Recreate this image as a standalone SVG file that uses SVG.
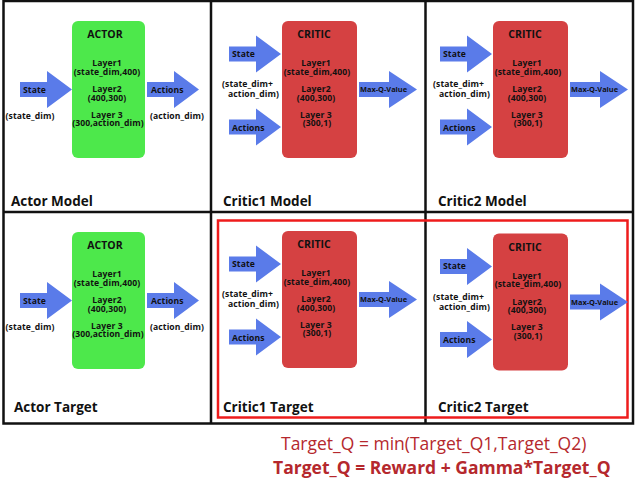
<svg xmlns="http://www.w3.org/2000/svg" xmlns:xlink="http://www.w3.org/1999/xlink" width="638" height="482" viewBox="0 0 638 482">
<style>
text{font-family:"Open Sans","DejaVu Sans",sans-serif;font-weight:bold;fill:#111}
.t8{font-size:8.6px;letter-spacing:0.1px}
.c{text-anchor:middle}
.hd{font-size:10.5px}
.q{font-size:7.4px}
.ttl{font-size:13.5px}
.arr{fill:#5a7be9}
.act{fill:#4de84b}
.cri{fill:#d54142}
.grid{fill:none;stroke:#111;stroke-width:2.5}
.eq1{font-size:17.5px;font-weight:normal;fill:#b5282d}
.eq2{font-size:17.5px;font-weight:bold;fill:#b5282d}
</style>
<defs>
<path id="a" d="M0,-7.5H27V-18.5L52,0L27,18.5V7.5H0Z"/>
<path id="aq" d="M0,-7.5H30V-18.5L58,0L30,18.5V7.5H0Z"/>
</defs>
<rect width="638" height="482" fill="#fff"/>
<g id="frame">
<rect class="grid" x="3.5" y="1" width="629.5" height="422.5"/>
<line class="grid" x1="211" y1="1" x2="211" y2="423.5"/>
<line class="grid" x1="425.5" y1="1" x2="425.5" y2="423.5"/>
<line class="grid" x1="3.5" y1="212" x2="633" y2="212"/>
<rect x="218" y="220.5" width="409.5" height="197" fill="none" stroke="#ee1c1c" stroke-width="2.5"/>
</g>
<g id="connectors">
<g id="actor-model-arrows">
<use href="#a" class="arr" x="20" y="89.5"/>
<use href="#a" class="arr" x="147" y="89.5"/>
<text class="t8" x="23" y="92.5">State</text>
<text class="t8 c" x="30" y="118.5">(state_dim)</text>
<text class="t8" x="151" y="92.5">Actions</text>
<text class="t8 c" x="177" y="118.5">(action_dim)</text>
</g>
<g id="actor-target-arrows" transform="translate(0,211)">
<use href="#a" class="arr" x="20" y="89.5"/>
<use href="#a" class="arr" x="147" y="89.5"/>
<text class="t8" x="23" y="92.5">State</text>
<text class="t8 c" x="30" y="118.5">(state_dim)</text>
<text class="t8" x="151" y="92.5">Actions</text>
<text class="t8 c" x="177" y="118.5">(action_dim)</text>
</g>
<g id="critic1-model-arrows">
<use href="#a" class="arr" x="229" y="54"/>
<use href="#a" class="arr" x="229" y="127"/>
<use href="#aq" class="arr" x="359" y="89.5"/>
<text class="t8" x="232" y="56.5">State</text>
<text class="t8" x="232" y="130.5">Actions</text>
<text class="t8" x="222" y="87">(state_dim+</text>
<text class="t8" x="228" y="97">action_dim)</text>
<text class="q" x="360" y="92">Max-Q-Value</text>
</g>
<g id="critic2-model-arrows" transform="translate(211,0)">
<use href="#a" class="arr" x="229" y="54"/>
<use href="#a" class="arr" x="229" y="127"/>
<use href="#aq" class="arr" x="359" y="89.5"/>
<text class="t8" x="232" y="56.5">State</text>
<text class="t8" x="232" y="130.5">Actions</text>
<text class="t8" x="222" y="87">(state_dim+</text>
<text class="t8" x="228" y="97">action_dim)</text>
<text class="q" x="360" y="92">Max-Q-Value</text>
</g>
<g id="critic1-target-arrows" transform="translate(0,210)">
<use href="#a" class="arr" x="229" y="54"/>
<use href="#a" class="arr" x="229" y="127"/>
<use href="#aq" class="arr" x="359" y="89.5"/>
<text class="t8" x="232" y="56.5">State</text>
<text class="t8" x="232" y="130.5">Actions</text>
<text class="t8" x="222" y="87">(state_dim+</text>
<text class="t8" x="228" y="97">action_dim)</text>
<text class="q" x="360" y="92">Max-Q-Value</text>
</g>
<g id="critic2-target-arrows" transform="translate(211,212.5)">
<use href="#a" class="arr" x="229" y="54"/>
<use href="#a" class="arr" x="229" y="127"/>
<use href="#aq" class="arr" x="359" y="89.5"/>
<text class="t8" x="232" y="56.5">State</text>
<text class="t8" x="232" y="130.5">Actions</text>
<text class="t8" x="222" y="87">(state_dim+</text>
<text class="t8" x="228" y="97">action_dim)</text>
<text class="q" x="360" y="92">Max-Q-Value</text>
</g>
</g>
<g id="actor-model">
<rect class="act" x="72" y="21" width="73" height="137" rx="6"/>
<text class="hd c" x="105" y="38">ACTOR</text>
<text class="t8 c" x="107" y="66">Layer1</text>
<text class="t8 c" x="107" y="74.5">(state_dim,400)</text>
<text class="t8 c" x="107" y="92">Layer2</text>
<text class="t8 c" x="107" y="100.5">(400,300)</text>
<text class="t8 c" x="107" y="117.5">Layer 3</text>
<text class="t8 c" x="108" y="126">(300,action_dim)</text>
</g>
<g id="actor-target" transform="translate(0,211)">
<rect class="act" x="72" y="21" width="73" height="137" rx="6"/>
<text class="hd c" x="105" y="38">ACTOR</text>
<text class="t8 c" x="107" y="66">Layer1</text>
<text class="t8 c" x="107" y="74.5">(state_dim,400)</text>
<text class="t8 c" x="107" y="92">Layer2</text>
<text class="t8 c" x="107" y="100.5">(400,300)</text>
<text class="t8 c" x="107" y="117.5">Layer 3</text>
<text class="t8 c" x="108" y="126">(300,action_dim)</text>
</g>
<g id="critic1-model">
<rect class="cri" x="282" y="21" width="75" height="137" rx="6"/>
<text class="hd c" x="314" y="38">CRITIC</text>
<text class="t8 c" x="316" y="66">Layer1</text>
<text class="t8 c" x="317" y="74.5">(state_dim,400)</text>
<text class="t8 c" x="316" y="92">Layer2</text>
<text class="t8 c" x="316" y="100.5">(400,300)</text>
<text class="t8 c" x="316" y="117.5">Layer 3</text>
<text class="t8 c" x="317" y="126">(300,1)</text>
</g>
<g id="critic2-model" transform="translate(211,0)">
<rect class="cri" x="282" y="21" width="75" height="137" rx="6"/>
<text class="hd c" x="314" y="38">CRITIC</text>
<text class="t8 c" x="316" y="66">Layer1</text>
<text class="t8 c" x="317" y="74.5">(state_dim,400)</text>
<text class="t8 c" x="316" y="92">Layer2</text>
<text class="t8 c" x="316" y="100.5">(400,300)</text>
<text class="t8 c" x="316" y="117.5">Layer 3</text>
<text class="t8 c" x="317" y="126">(300,1)</text>
</g>
<g id="critic1-target" transform="translate(0,210)">
<rect class="cri" x="282" y="21" width="75" height="137" rx="6"/>
<text class="hd c" x="314" y="38">CRITIC</text>
<text class="t8 c" x="316" y="66">Layer1</text>
<text class="t8 c" x="317" y="74.5">(state_dim,400)</text>
<text class="t8 c" x="316" y="92">Layer2</text>
<text class="t8 c" x="316" y="100.5">(400,300)</text>
<text class="t8 c" x="316" y="117.5">Layer 3</text>
<text class="t8 c" x="317" y="126">(300,1)</text>
</g>
<g id="critic2-target" transform="translate(211,212.5)">
<rect class="cri" x="282" y="21" width="75" height="137" rx="6"/>
<text class="hd c" x="314" y="38">CRITIC</text>
<text class="t8 c" x="316" y="66">Layer1</text>
<text class="t8 c" x="317" y="74.5">(state_dim,400)</text>
<text class="t8 c" x="316" y="92">Layer2</text>
<text class="t8 c" x="316" y="100.5">(400,300)</text>
<text class="t8 c" x="316" y="117.5">Layer 3</text>
<text class="t8 c" x="317" y="126">(300,1)</text>
</g>
<g id="titles">
<text class="ttl" x="11" y="206">Actor Model</text>
<text class="ttl" x="223" y="206">Critic1 Model</text>
<text class="ttl" x="438" y="206">Critic2 Model</text>
<text class="ttl" x="14" y="412">Actor Target</text>
<text class="ttl" x="223" y="412">Critic1 Target</text>
<text class="ttl" x="438" y="412">Critic2 Target</text>
</g>
<g id="equations">
<text class="eq1" x="281" y="450">Target_Q = min(Target_Q1,Target_Q2)</text>
<text class="eq2" x="273" y="474">Target_Q = Reward + Gamma*Target_Q</text>
</g>
</svg>
